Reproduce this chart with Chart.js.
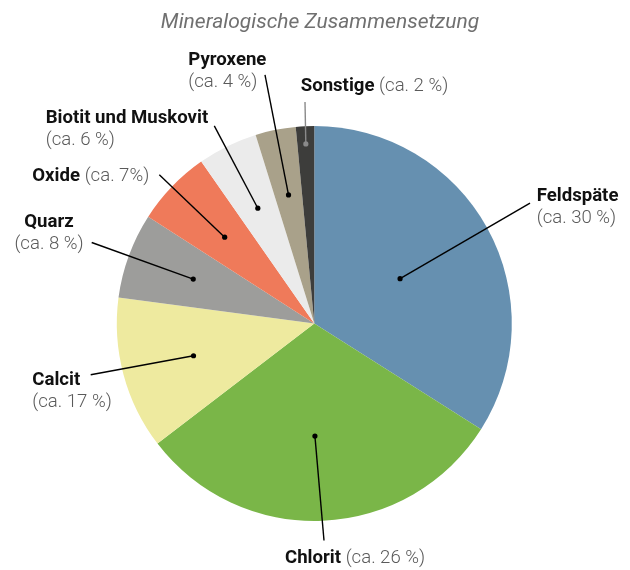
<!DOCTYPE html>
<html>
<head>
<meta charset="utf-8">
<script src="https://cdn.jsdelivr.net/npm/chart.js@4/dist/chart.umd.min.js"></script>
<style>
html,body{margin:0;padding:0;background:#fff;}
#wrap{width:630px;height:570px;}
</style>
</head>
<body>
<div id="wrap"><canvas id="c" width="630" height="570"></canvas></div>
<script>
// ---- data ----
const chartTitle = 'Mineralogische Zusammensetzung';
const categories = ['Feldspäte', 'Chlorit', 'Calcit', 'Quarz', 'Oxide', 'Biotit und Muskovit', 'Pyroxene', 'Sonstige'];
const shares = [34.0, 30.6, 12.5, 7.0, 6.2, 4.9, 3.3, 1.5];
const shareLabels = ['(ca. 30 %)', '(ca. 26 %)', '(ca. 17 %)', '(ca. 8 %)', '(ca. 7%)', '(ca. 6 %)', '(ca. 4 %)', '(ca. 2 %)'];

// ---- styles / layout (not data) ----
const colors = ['#6690b0', '#7ab648', '#eeea9f', '#9d9d9b', '#ef7a5a', '#ebebeb', '#a9a18a', '#3d3d3b'];
// dot: radius fraction for the anchor dot; t: position across the slice's angle (0..1);
// end: leader end relative to pie centre; tx,ty: text position relative to pie centre (first baseline)
const layout = [
  {dot: 0.49, t: 0.51, end: [215.7, -120.4], tx: 222.4, ty: -123, align: 'left', inline: false, lc: '#000'},
  {dot: 0.57, t: 0.52, end: [9.7, 217], tx: -29.3, ty: 239.6, align: 'left', inline: true, lc: '#000'},
  {dot: 0.633, t: 0.5, end: [-223.6, 51.3], tx: -282, ty: 61.3, align: 'left', inline: false, lc: '#000'},
  {dot: 0.653, t: 0.5, end: [-222.6, -81], tx: -265.3, ty: -97, align: 'center', inline: false, lc: '#000'},
  {dot: 0.63, t: 0.5, end: [-155, -148.7], tx: -282, ty: -143, align: 'left', inline: true, lc: '#000'},
  {dot: 0.65, t: 0.5, end: [-100, -197.7], tx: -268.6, ty: -200.4, align: 'left', inline: false, lc: '#000'},
  {dot: 0.664, t: 0.5, end: [-49.3, -248.7], tx: -126, ty: -258.7, align: 'left', inline: false, lc: '#000'},
  {dot: 0.91, t: 0.5, end: [-9.3, -221.4], tx: -13.6, ty: -233, align: 'left', inline: true, lc: '#8a8a8a'}
];
const boldFont = 'bold 18.6px Roboto';
const lightFont = '300 18.6px Roboto';
const lineGap = 22;

const leaderPlugin = {
  id: 'leaders',
  afterDraw(chart) {
    const ctx = chart.ctx;
    ctx.save();
    // title
    ctx.font = 'italic 21px Roboto';
    ctx.fillStyle = '#707070';
    ctx.textAlign = 'center';
    ctx.textBaseline = 'alphabetic';
    ctx.fillText(chartTitle, 320, 28);

    const meta = chart.getDatasetMeta(0);
    meta.data.forEach((arc, i) => {
      const L = layout[i];
      const p = arc.getProps(['x', 'y', 'startAngle', 'endAngle', 'outerRadius'], true);
      const ang = p.startAngle + (p.endAngle - p.startAngle) * L.t;
      const dx = p.x + Math.cos(ang) * p.outerRadius * L.dot;
      const dy = p.y + Math.sin(ang) * p.outerRadius * L.dot;
      const ex = p.x + L.end[0], ey = p.y + L.end[1];
      ctx.strokeStyle = L.lc;
      ctx.lineWidth = 1.4;
      ctx.beginPath();
      ctx.moveTo(dx, dy);
      ctx.lineTo(ex, ey);
      ctx.stroke();
      ctx.fillStyle = L.lc;
      ctx.beginPath();
      ctx.arc(dx, dy, 2.6, 0, Math.PI * 2);
      ctx.fill();

      const tx = p.x + L.tx, ty = p.y + L.ty;
      ctx.textBaseline = 'alphabetic';
      if (L.inline) {
        ctx.textAlign = 'left';
        ctx.font = boldFont;
        ctx.fillStyle = '#111';
        ctx.fillText(categories[i], tx, ty);
        const w = ctx.measureText(categories[i] + ' ').width;
        ctx.font = lightFont;
        ctx.fillStyle = '#5a5a5a';
        ctx.fillText(shareLabels[i], tx + w, ty);
      } else {
        ctx.textAlign = L.align;
        ctx.font = boldFont;
        ctx.fillStyle = '#111';
        ctx.fillText(categories[i], tx, ty);
        ctx.font = lightFont;
        ctx.fillStyle = '#5a5a5a';
        ctx.fillText(shareLabels[i], tx, ty + lineGap);
      }
    });
    ctx.restore();
  }
};

new Chart(document.getElementById('c'), {
  type: 'pie',
  data: {
    labels: categories,
    datasets: [{
      data: shares,
      backgroundColor: colors,
      borderWidth: 0,
      hoverOffset: 0
    }]
  },
  options: {
    responsive: false,
    devicePixelRatio: 1,
    animation: false,
    layout: {padding: {top: 126, bottom: 49, left: 0, right: 1.4}},
    plugins: {
      legend: {display: false},
      title: {display: false},
      tooltip: {enabled: false}
    }
  },
  plugins: [leaderPlugin]
});
</script>
</body>
</html>
